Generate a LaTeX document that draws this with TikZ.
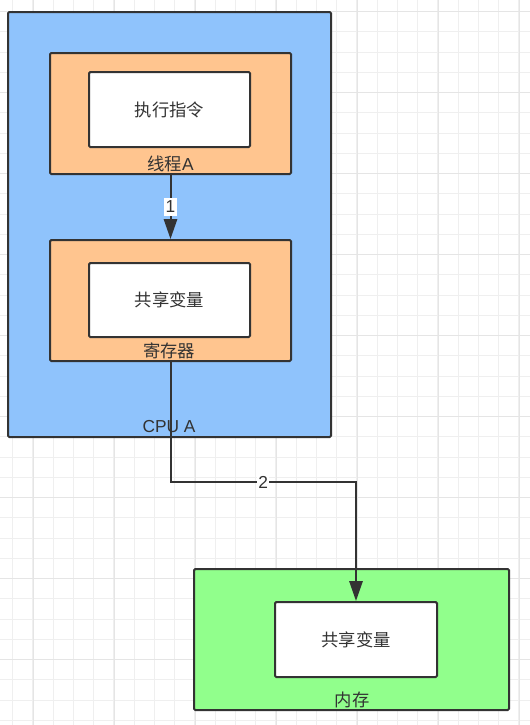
\documentclass[tikz,border=0pt]{standalone}
\usepackage{fontspec}
\setmainfont{Liberation Sans}
\newfontfamily\cjk{Noto Sans CJK SC}
\usetikzlibrary{arrows.meta}
\definecolor{cpublue}{HTML}{8FC3FC}
\definecolor{throrange}{HTML}{FFC58F}
\definecolor{memgreen}{HTML}{91FF8C}
\definecolor{edgegray}{HTML}{333333}
\definecolor{txtgray}{HTML}{333333}
\definecolor{gridminor}{HTML}{EFEFEF}
\definecolor{gridmajor}{HTML}{E5E5E5}
\newcommand\pxu{0.75pt}
\tikzset{
  box/.style={draw=edgegray, line width=1.5pt, rounded corners=1pt, inner sep=0pt},
  cpubox/.style={box, fill=cpublue},
  thrbox/.style={box, fill=throrange},
  membox/.style={box, fill=memgreen},
  whitebox/.style={box, fill=white, text=txtgray, font=\fontsize{13}{15}\selectfont\cjk},
  lbl/.style={text=txtgray, font=\fontsize{13}{15}\selectfont, inner sep=0pt},
  conn/.style={draw=edgegray, line width=1.5pt, -{Triangle[length=15pt,width=10pt]}},
  clbl/.style={fill=white, text=txtgray, font=\fontsize{13}{15}\selectfont, inner xsep=1pt, inner ysep=2.5pt},
  minor/.style={draw=gridminor, line width=0.75pt},
  major/.style={draw=gridmajor, line width=0.75pt}
}
\begin{document}
\begin{tikzpicture}[x=0.75pt, y=-0.75pt]
\useasboundingbox[fill=white] (0,0) rectangle (530,725);
% grid
\foreach \k in {0,...,25} {\draw[minor] ({12.7+20.25*\k},0) -- ({12.7+20.25*\k},725);}
\foreach \k in {0,...,35} {\draw[minor] (0,{11.7+20.25*\k}) -- (530,{11.7+20.25*\k});}
\foreach \k in {0,...,6} {\draw[major] ({33.3+81*\k},0) -- ({33.3+81*\k},725);}
\foreach \k in {0,...,8} {\draw[major] (0,{11.7+81*\k}) -- (530,{11.7+81*\k});}
% CPU
\node[cpubox, minimum width=323*\pxu, minimum height=425*\pxu] (cpu) at (169.5,224.5) {};
\node[thrbox, minimum width=241*\pxu, minimum height=121*\pxu] (thr) at (170.5,113.5) {};
\node[whitebox, minimum width=161*\pxu, minimum height=75*\pxu] (exec) at (169.5,109.5) {执行指令};
\node[lbl] (thrlbl) at (170.5,164) {{\cjk 线程}A};
\node[thrbox, minimum width=241*\pxu, minimum height=121*\pxu] (reg) at (170.5,300.5) {};
\node[whitebox, minimum width=161*\pxu, minimum height=74*\pxu] (regvar) at (169.5,300) {共享变量};
\node[lbl] (reglbl) at (169,351) {\cjk 寄存器};
\node[lbl] (cpulbl) at (169,427) {CPU A};
% memory
\node[membox, minimum width=315*\pxu, minimum height=141*\pxu] (mem) at (351.5,639.5) {};
\node[whitebox, minimum width=162*\pxu, minimum height=75*\pxu] (memvar) at (356,639.5) {共享变量};
\node[lbl] (memlbl) at (352,700) {\cjk 内存};
% connectors
\draw[conn] (thr.south) -- node[clbl, pos=0.5] {1} (reg.north);
\coordinate (turn) at (356,482);
\draw[conn] (reg.south) |- (turn) node[clbl, pos=0.75] {2} -- (memvar.north);
\end{tikzpicture}
\end{document}
